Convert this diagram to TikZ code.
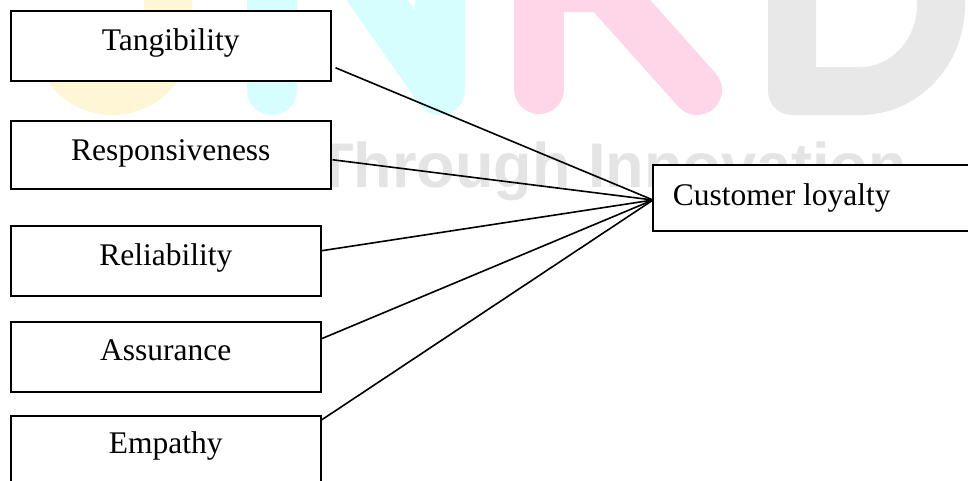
\documentclass[tikz,border=0pt]{standalone}
\usepackage{fontspec}
\setmainfont{Liberation Serif}
\newfontfamily\wmfont{Liberation Sans}
\usetikzlibrary{calc}
\definecolor{wmyellow}{HTML}{FFF6D6}
\definecolor{wmcyan}{HTML}{D6FEFF}
\definecolor{wmpink}{HTML}{FFD5E8}
\definecolor{wmgrey}{HTML}{E8E8E8}
\definecolor{wmtext}{HTML}{E4E4E4}
\begin{document}
\begin{tikzpicture}[x=1pt,y=1pt,
  wmstroke/.style={line width=50pt, line cap=round, line join=round},
  boxbase/.style={draw=black, line width=1.5pt, fill=white, inner sep=0pt,
    anchor=north west, font=\fontsize{31.5}{36}\selectfont},
  widebox/.style={boxbase, minimum width=320pt},
  narrowbox/.style={boxbase, minimum width=310pt},
  conn/.style={draw=black, line width=1.6pt}
]
\useasboundingbox (0,0) rectangle (968,-480);
\clip (0,0) rectangle (968,-480);
\fill[white] (0,0) rectangle (968,-480);

% faint watermark
\draw[wmstroke, line width=48pt, wmyellow] (168,20) -- (168,-35.5)
  arc[start angle=0, end angle=-180, radius=55.5];
\draw[wmstroke, wmcyan] (272,-90) -- (272,150) -- (440,-90) -- (440,200);
\draw[wmstroke, wmpink] (539,-89) -- (539,150);
\draw[wmstroke, wmpink] (539,13) -- (605,13) -- (697,-90);
\draw[wmstroke, line width=48pt, wmgrey] (792,150) -- (792,-91) -- (860,-91)
  to[out=0,in=-90] (941,-5) -- (941,150);
\node[anchor=base west, inner sep=0pt, text=wmtext,
  font=\wmfont\bfseries\fontsize{63}{70}\selectfont] (wm) at (315,-187)
  {Through Innovation};

% factor boxes
\node[widebox, text height=40pt, text depth=30pt] (tang) at (10,-10) {Tangibility};
\node[widebox, text height=40pt, text depth=28pt] (resp) at (10,-120) {Responsiveness};
\node[narrowbox, text height=40pt, text depth=30pt] (rel) at (10,-225) {Reliability};
\node[narrowbox, text height=39pt, text depth=31pt] (assu) at (10,-321) {Assurance};
\node[narrowbox, text height=38pt, text depth=50pt] (emp) at (10,-415) {Empathy};

% outcome box
\node[boxbase, text height=41pt, text depth=25pt] (cl) at (652,-164)
  {\makebox[340pt][l]{\hspace*{20pt}Customer loyalty}};

\coordinate (hub) at (653,-200);

\draw[conn] ([shift={(4,-22)}]tang.east) -- (hub);
\draw[conn] ([shift={(1,-5)}]resp.east) -- (hub);
\draw[conn] ([shift={(0,10)}]rel.east) -- (hub);
\draw[conn] ([shift={(0,18)}]assu.east) -- (hub);
\draw[conn] ([shift={(0,-5)}]emp.north east) -- (hub);
\end{tikzpicture}
\end{document}
